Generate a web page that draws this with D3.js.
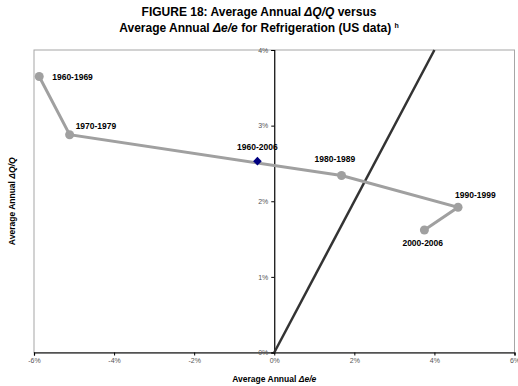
<!DOCTYPE html>
<html>
<head>
<meta charset="utf-8">
<script src="https://cdn.jsdelivr.net/npm/d3@7"></script>
<style>
  body { margin: 0; background: #fff; }
  svg { font-family: "Liberation Sans", Arial, sans-serif; }
</style>
</head>
<body>
<svg id="chart" width="518" height="386"></svg>
<script>
// decades, avg annual de/e (%) and dQ/Q (%)
const decades = ['1960-1969', '1970-1979', '1980-1989', '1990-1999', '2000-2006']
const deValues = [-5.87, -5.11, 1.68, 4.59, 3.75]
const dqValues = [3.65, 2.88, 2.34, 1.92, 1.62]

// whole period point
const periodLabel = ['1960-2006']
const periodDe = [-0.42]
const periodDq = [2.53]

// 45 degree reference line
const refLine = [[0, 0], [4, 4]]

const xTicks = [-6, -4, -2, 0, 2, 4, 6]
const yTicks = [0, 1, 2, 3, 4]

const svg = d3.select('#chart')

const x = d3.scaleLinear().domain([-6, 6]).range([34, 514.5])
const y = d3.scaleLinear().domain([0, 4]).range([352.5, 50])

// plot frame
svg.append('rect')
  .attr('x', x(-6)).attr('y', y(4))
  .attr('width', x(6) - x(-6)).attr('height', y(0) - y(4))
  .attr('fill', 'none').attr('stroke', '#a6a6a6').attr('stroke-width', 1)

// axes
const xAxis = svg.append('g')
  .attr('transform', `translate(0,${y(0)})`)
  .call(d3.axisBottom(x).tickValues(xTicks).tickSize(3).tickPadding(3).tickFormat(d => d + '%'))
const yAxis = svg.append('g')
  .attr('transform', `translate(${x(0)},0)`)
  .call(d3.axisLeft(y).tickValues(yTicks).tickSize(3).tickPadding(3).tickFormat(d => d + '%'))

for (const g of [xAxis, yAxis]) {
  g.select('.domain').attr('stroke', '#000').attr('stroke-width', 1.2)
  g.selectAll('.tick line').attr('stroke', '#000')
  g.selectAll('.tick text').attr('fill', '#555').style('font-size', '7px')
    .style('font-family', '"Liberation Sans", Arial, sans-serif')
}

// reference line
svg.append('path')
  .datum(refLine)
  .attr('d', d3.line().x(d => x(d[0])).y(d => y(d[1])))
  .attr('fill', 'none').attr('stroke', '#333').attr('stroke-width', 2.5)

// decade series
const decadeData = decades.map((d, i) => ({ label: d, de: deValues[i], dq: dqValues[i] }))
svg.append('path')
  .datum(decadeData)
  .attr('d', d3.line().x(d => x(d.de)).y(d => y(d.dq)))
  .attr('fill', 'none').attr('stroke', '#a0a0a0').attr('stroke-width', 3)
svg.selectAll('circle.dec')
  .data(decadeData)
  .join('circle')
  .attr('class', 'dec')
  .attr('cx', d => x(d.de)).attr('cy', d => y(d.dq))
  .attr('r', 4.5).attr('fill', '#a0a0a0')

// label offsets
const labelOff = [[13, 1], [6, -9], [-27, -17], [-3, -12], [-22, 13]]
svg.selectAll('text.dec')
  .data(decadeData)
  .join('text')
  .attr('class', 'dec')
  .attr('x', (d, i) => x(d.de) + labelOff[i][0])
  .attr('y', (d, i) => y(d.dq) + labelOff[i][1])
  .attr('dy', '0.35em')
  .style('font-size', '8.5px').style('font-weight', 'bold')
  .text(d => d.label)

// whole period point
const periodData = periodLabel.map((d, i) => ({ label: d, de: periodDe[i], dq: periodDq[i] }))
svg.selectAll('path.per')
  .data(periodData)
  .join('path')
  .attr('class', 'per')
  .attr('d', d3.symbol(d3.symbolDiamond2, 48))
  .attr('transform', d => `translate(${x(d.de)},${y(d.dq)})`)
  .attr('fill', '#000080')
svg.selectAll('text.per')
  .data(periodData)
  .join('text')
  .attr('class', 'per')
  .attr('x', d => x(d.de))
  .attr('y', d => y(d.dq) - 14)
  .attr('dy', '0.35em')
  .attr('text-anchor', 'middle')
  .style('font-size', '8.5px').style('font-weight', 'bold')
  .text(d => d.label)

// title
const title = svg.append('text')
  .attr('text-anchor', 'middle').style('font-weight', 'bold').style('font-size', '12px')
const t1 = title.append('tspan').attr('x', 259).attr('y', 16)
t1.append('tspan').text('FIGURE 18: Average Annual ')
t1.append('tspan').style('font-style', 'italic').text('ΔQ/Q')
t1.append('tspan').text(' versus')
const t2 = title.append('tspan').attr('x', 259).attr('y', 32)
t2.append('tspan').text('Average Annual ')
t2.append('tspan').style('font-style', 'italic').text('Δe/e')
t2.append('tspan').text(' for Refrigeration (US data) ')
t2.append('tspan').style('font-size', '7px').attr('dy', -4).text('h')

// axis titles
const xt = svg.append('text')
  .attr('x', (x(-6) + x(6)) / 2).attr('y', 382)
  .attr('text-anchor', 'middle').style('font-size', '8.5px').style('font-weight', 'bold')
xt.append('tspan').text('Average Annual ')
xt.append('tspan').style('font-style', 'italic').text('Δe/e')

const yt = svg.append('text')
  .attr('transform', `translate(15,${(y(0) + y(4)) / 2}) rotate(-90)`)
  .attr('text-anchor', 'middle').style('font-size', '8.5px').style('font-weight', 'bold')
yt.append('tspan').text('Average Annual ')
yt.append('tspan').style('font-style', 'italic').text('ΔQ/Q')
</script>
</body>
</html>
